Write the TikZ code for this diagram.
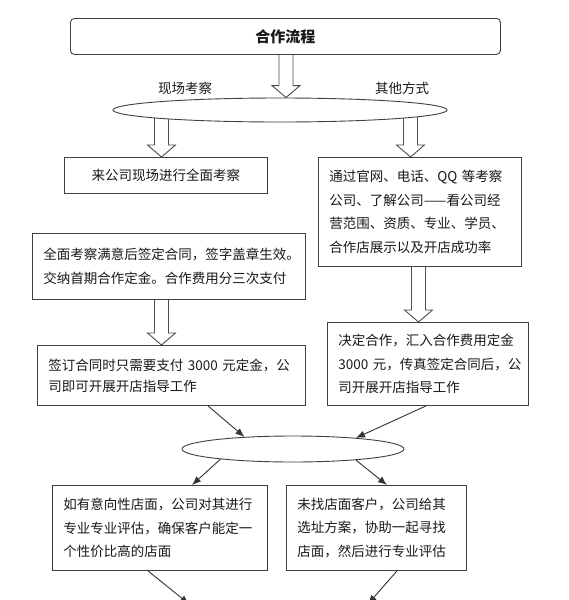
\documentclass[tikz,border=0pt]{standalone}
\usepackage{fontspec}
\setmainfont{Noto Sans CJK SC}
\usetikzlibrary{shapes.geometric,calc,backgrounds,arrows.meta}
\tikzset{
  ln/.style={draw=black!75, line width=0.9pt},
  box/.style={ln, fill=white, anchor=north west, align=left, inner xsep=11pt, inner ysep=0pt,
    font=\fontsize{13.5}{23.5}\selectfont, text=black!90},
  oval/.style={ln, ellipse, fill=white, inner sep=0pt},
  harr/.style={draw=black!70, line width=0.9pt, fill=white, line join=miter},
  conn/.style={draw=black!80, line width=0.9pt, -{Latex[length=9pt,width=7pt]}},
  lbl/.style={font=\fontsize{13.5}{16}\selectfont, inner sep=0pt, text=black!90},
}
\newcommand\hollowarr[2]{%
  \draw[harr] let \p1=#1, \p2=#2 in
    (\x1-7pt,\y1) -- (\x1-7pt,\y2+12pt) -- (\x1-14pt,\y2+12pt) -- (\x1,\y2)
    -- (\x1+14pt,\y2+12pt) -- (\x1+7pt,\y2+12pt) -- (\x1+7pt,\y1);}
\begin{document}
\begin{tikzpicture}[x=1pt,y=-1pt]
\useasboundingbox (0,0) rectangle (569,600);

\node[box, rounded corners=4pt, minimum width=430pt, minimum height=36pt, align=center,
  font=\fontsize{15}{18}\selectfont\bfseries] (T) at (70,18) {合作流程};

\node[oval, minimum width=334pt, minimum height=24pt] (e1) at (280,110) {};
\node[lbl] (l1) at (185,88) {现场考察};
\node[lbl] (l2) at (402,88) {其他方式};

\node[box, align=center, minimum width=203pt, minimum height=36pt] (A) at (64,157) {来公司现场进行全面考察};

\node[box, text width=181pt, minimum height=109pt] (B) at (318,157)
  {通过官网、电话、QQ~等考察\\公司、了解公司——看公司经\\营范围、资质、专业、学员、\\合作店展示以及开店成功率};

\node[box, text width=251pt, minimum height=66pt] (C) at (32,233)
  {全面考察满意后签定合同，签字盖章生效。\\交纳首期合作定金。合作费用分三次支付};

\node[box, text width=246pt, minimum height=60pt, font=\fontsize{13.5}{21}\selectfont] (D) at (37,345)
  {签订合同时只需要支付~3000~元定金，公\\司即可开展开店指导工作};

\node[box, text width=179pt, minimum height=83pt] (E) at (327,322)
  {决定合作，汇入合作费用定金\\3000~元，传真签定合同后，公\\司开展开店指导工作};

\node[oval, minimum width=222pt, minimum height=26pt] (e2) at (293,449) {};

\node[box, text width=193pt, minimum height=85pt] (F) at (52,485)
  {如有意向性店面，公司对其进行\\专业专业评估，确保客户能定一\\个性价比高的店面};

\node[box, text width=158pt, minimum height=85pt] (G) at (286,485)
  {未找店面客户，公司给其\\选址方案，协助一起寻找\\店面，然后进行专业评估};

\begin{scope}[on background layer]
  \fill[white] (0,0) rectangle (569,600);
  \hollowarr{(286,0 |- T.south)}{(286,0 |- e1.north)}
  \hollowarr{(161.5,0 |- e1.center)}{(161.5,0 |- A.north)}
  \hollowarr{(410.5,0 |- e1.center)}{(410.5,0 |- B.north)}
  \hollowarr{(161.5,0 |- C.south)}{(161.5,0 |- D.north)}
  \hollowarr{(418.5,0 |- B.south)}{(418.5,0 |- E.north)}
\end{scope}

\draw[conn] (208,0 |- D.south) -- (e2.166);
\draw[conn] (426,0 |- E.south) -- (e2.10);
\draw[conn] (e2.188) -- (192,0 |- F.north);
\draw[conn] (e2.350) -- (387,0 |- G.north);
\coordinate (f1) at (189,604);
\coordinate (g1) at (368,604);
\draw[conn] (148,0 |- F.south) -- (f1);
\draw[conn] (397,0 |- G.south) -- (g1);
\end{tikzpicture}
\end{document}
